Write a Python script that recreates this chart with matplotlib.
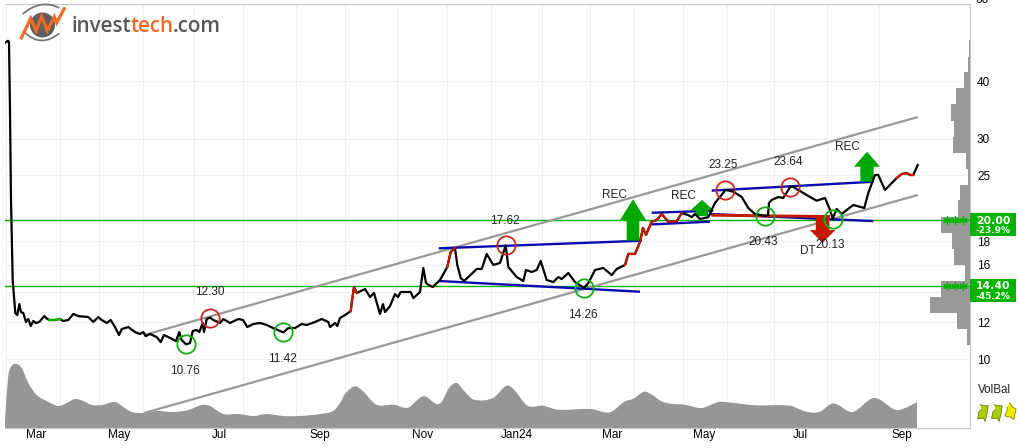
import matplotlib
matplotlib.use("Agg")
import matplotlib.pyplot as plt
import matplotlib.transforms as mtransforms
from matplotlib.patches import Circle, PathPatch, Rectangle
from matplotlib.path import Path
from matplotlib.ticker import NullFormatter, NullLocator
import numpy as np

plt.rcParams['font.family'] = ['Liberation Sans', 'DejaVu Sans']

# month starts on the time axis, month names sit between them
month_edges = [6, 60, 99, 143, 194, 243, 296, 345, 397, 447.5, 491.5, 542, 590, 634, 683, 727, 773.6, 827.5, 879]
month_label_pos = [36, 119, 219, 320, 423, 517, 612, 704, 800, 902]
month_labels = ['Mar', 'May', 'Jul', 'Sep', 'Nov', 'Jan24', 'Mar', 'May', 'Jul', 'Sep']
price_ticks = [10, 12, 14, 16, 18, 20, 25, 30, 40]
price_tick_labels = ['10', '12', '', '16', '18', '', '25', '30', '40']

# closing price
t = [5, 8, 9, 10, 11, 12.7, 14, 15.3, 17.3, 19.3, 21, 23.3, 26, 28.3, 30.7, 33.3, 36, 39.3, 44.3, 47.3,
     49.3, 55, 60, 63, 68.3, 73.3, 78.3, 88.3, 93.3, 98.3, 101.7, 106.7, 110.7, 115, 119, 121.7, 128.3,
     135, 140, 143.3, 145.7, 150, 156.7, 160.7, 164, 168.3, 176, 179.3, 181.7, 186, 190, 192.7, 196.7,
     199.3, 202.7, 204, 206.7, 210, 213.3, 220, 223.3, 230, 238.3, 243, 247.3, 253.3, 260, 266.7, 273.3,
     283.3, 288.3, 295, 301.7, 306.7, 315, 321.7, 328.3, 330, 335, 337.3, 340, 345, 350.7, 351.7, 354,
     356.7, 365, 370, 374, 380, 383, 385, 390, 395, 398, 400.7, 410.7, 413.3, 420, 423.3, 426, 429, 432.7,
     440, 447.3, 450.7, 455, 457.3, 460.7, 464, 468.3, 476.7, 481.7, 486.7, 493.3, 500, 505.7, 508.3,
     513.3, 516.7, 523.3, 526, 531.7, 536.7, 540.7, 546.7, 553.3, 558.3, 561.7, 568.3, 575, 584, 588.3,
     595, 603.3, 611.7, 616.7, 625, 628.3, 635, 640, 643, 646, 651.7, 656.7, 661.7, 668.3, 676.7, 681.7,
     688, 691.7, 695, 700, 708.3, 715, 720, 725.5, 733.3, 741.7, 748.3, 755, 765, 768, 769, 771.7, 778.3,
     783.3, 790.5, 793.3, 798.3, 808.3, 816.7, 825, 830, 832.7, 836.7, 841.7, 846.7, 853.3, 864.3, 868.3,
     875, 878.3, 885, 896.7, 901.7, 906.7, 910, 913.3, 917.7]
close = [48.4, 48.9, 48.6, 34.6, 22.1, 14.83, 13.62, 12.58, 12.45, 13.15, 12.64, 12.58, 12.03, 12.21, 11.79,
         12.09, 11.97, 12.03, 12.39, 12.21, 12.15, 12.15, 12.21, 12.09, 12.15, 12.52, 12.39, 12.33, 12.03,
         12.33, 12.15, 11.97, 12.15, 11.73, 11.27, 11.61, 11.73, 11.44, 11.33, 11.44, 11.21, 11.33, 11.16,
         10.88, 11.27, 11.16, 10.94, 11.44, 10.99, 10.76, 10.83, 11.50, 11.56, 11.44, 11.97, 11.44, 12.21,
         12.30, 12.15, 11.97, 12.21, 11.97, 12.21, 12.15, 11.73, 11.91, 11.97, 11.85, 11.67, 11.42, 11.67,
         11.67, 11.91, 11.85, 12.03, 12.21, 12.03, 11.73, 11.97, 11.79, 12.27, 12.45, 12.70, 13.22, 14.32,
         13.90, 14.18, 13.62, 13.90, 12.52, 13.15, 12.64, 13.02, 13.83, 13.62, 13.97, 13.97, 13.55, 13.97,
         15.75, 14.61, 14.46, 14.32, 14.83, 15.83, 17.06, 17.40, 15.99, 14.98, 14.76, 15.05, 15.67, 15.67,
         16.89, 15.99, 16.15, 17.62, 15.83, 15.36, 15.05, 14.76, 15.59, 15.44, 15.59, 16.31, 14.83, 14.68,
         15.05, 14.90, 15.36, 14.68, 14.26, 14.61, 15.59, 15.75, 15.20, 15.67, 15.99, 16.89, 16.89, 17.94,
         19.23, 18.57, 19.84, 20.00, 20.61, 19.84, 19.90, 20.71, 20.51, 20.30, 20.61, 20.10, 20.30, 21.78,
         22.44, 23.25, 23.04, 22.44, 21.24, 20.61, 20.43, 20.51, 21.78, 22.11, 22.44, 22.33, 23.64, 23.58,
         23.23, 22.55, 22.03, 22.33, 21.03, 20.13, 21.14, 20.61, 21.03, 21.56, 21.24, 22.89, 25.04, 25.04,
         23.23, 24.67, 25.16, 25.29, 25.04, 25.04, 26.31]
red_spans = [(350.7, 356.7), (447.3, 455), (625, 681.7), (896.7, 913.3)]
green_spans = [(49.3, 60)]

# volume balance
vol_t = [5, 8.3, 11.7, 16.7, 21.7, 28.3, 36.7, 46.7, 58.3, 66.7, 75, 83.3, 91.7, 101.7, 115, 123.3, 131.7, 143.3,
         156.7, 173.3, 188.3, 201.7, 210, 223.3, 238.3, 253.3, 266.7, 283.3, 300, 320, 333.3, 340, 345.7, 355.3,
         363, 376.4, 393.6, 408, 418.5, 425, 435.7, 441.4, 449, 456.7, 464.4, 474, 493, 506.5, 514, 527.5, 542.8,
         558, 590.7, 609.8, 625, 632.8, 644, 652, 661.5, 671, 684.4, 701.7, 718.9, 734, 755, 789.7, 805, 818.4,
         831.8, 837.5, 852.8, 873.9, 895, 902.6, 917]
volume = [8, 52, 62, 64, 60, 45, 33, 27, 22, 25, 29, 27, 23, 23, 26, 21, 16, 15, 17, 16, 18, 23, 22, 14, 14, 12, 14,
          12, 12, 14, 17, 25, 35, 41.7, 36.7, 23.3, 23.3, 20.3, 29, 31.7, 24.3, 25.7, 40, 45, 36.7, 28.3, 30, 42.3,
          38.3, 22.3, 22.3, 18.3, 19, 15.7, 26.7, 29, 36.3, 33.3, 26.7, 24.3, 23.3, 20, 26, 25, 22.7, 22.3, 16.7,
          15.7, 24.3, 23.3, 16, 30, 18.3, 19, 25.7]
volume_top = 423.5

# traded volume per price band, highest band first
band_edges = [49.1, 45.2, 41.8, 38.6, 35.6, 32.8, 30.3, 27.9, 25.8, 23.85, 22.05, 20.35, 18.77, 17.31, 15.99,
              14.76, 13.62, 12.58, 11.61, 10.72]
band_volume = [1, 2, 6.3, 14.3, 19, 15.7, 16.7, 4.3, 2, 10.3, 12, 29.3, 18.3, 15.7, 5.3, 28.7, 40.3, 12.7, 2.7]

# rising trend channel
channel_t = [144, 917.7]
channel_upper = [11.27, 33.43]
channel_lower = [7.64, 22.66]

# consolidation formations
formation_t = [[438.7, 641.7], [438.7, 640], [651.7, 713], [651.7, 710], [711.7, 873.3], [710, 873.3]]
formation_p = [[17.37, 18.04], [14.76, 13.99], [20.74, 20.95], [19.57, 19.84], [23.16, 24.21], [20.61, 19.90]]
broken_t = [711.7, 830]
broken_p = [20.49, 20.35]

# tops and bottoms
pivot_t = [186, 210, 283.3, 505.7, 584, 725.5, 765, 790.5, 832.7]
pivot_p = [10.76, 12.30, 11.42, 17.62, 14.26, 23.25, 20.43, 23.64, 20.13]
pivot_labels = ['10.76', '12.30', '11.42', '17.62', '14.26', '23.25', '20.43', '23.64', '20.13']
pivot_tops = [False, True, False, True, False, True, False, True, False]
pivot_dy = [-26.5, 26, -26.5, 24.5, -27, 25, -26, 24.5, -26]
pivot_dx = [-1, 0, -1, -1, -1, -2, -2, -2, -3]

# buy and sell signals: time, arrow start, arrow tip, shaft, head width, head length (px)
signals = [(633, 18.05, 22.18, 12.6, 26, 20.7, '#00a800'),
           (702, 20.40, 22.11, 12, 24, 10.7, '#00a800'),
           (867, 24.21, 28.12, 13.3, 26, 15, '#00a800'),
           (822.6, 20.40, 17.86, 13.6, 25.7, 12.7, '#c41a00')]
signal_text_t = [614, 683, 847, 808]
signal_text_p = [22.66, 22.55, 28.86, 17.16]
signal_text = ['REC', 'REC', 'REC', 'DT']

# support and resistance levels
levels = [20.00, 14.40]
level_changes = ['-23.9%', '-45.2%']
level_box_top = [20.68, 14.88]
level_box_bottom = [18.47, 13.31]
star_t = [946.7, 955, 963.3]

fig = plt.figure(figsize=(10.2, 4.48), dpi=100)
ax = fig.add_axes([5 / 1020, 20 / 448, 965 / 1020, 423.5 / 448])
ax.set_yscale('log')
ax.set_xlim(5, 970)
ax.set_ylim(7.09, 58.6)

# axes furniture
ax.set_xticks(month_edges)
ax.set_xticklabels([])
ax.set_xticks(month_label_pos, month_labels, minor=True)
ax.tick_params(axis='x', which='both', length=0, labelsize=8.5, pad=1)
ax.yaxis.tick_right()
ax.set_yticks(price_ticks)
ax.set_yticklabels(price_tick_labels)
ax.yaxis.set_minor_locator(NullLocator())
ax.yaxis.set_minor_formatter(NullFormatter())
ax.tick_params(axis='y', which='both', length=0, labelsize=8.5, pad=5)
ax.grid(True, which='major', color='#efefef', linewidth=0.75, zorder=0)
ax.set_axisbelow(True)
for side in ['top', 'bottom', 'right']:
    ax.spines[side].set_color('#c8c8c8')
    ax.spines[side].set_linewidth(0.9)
ax.spines['left'].set_visible(False)
ax.text(975, 60, '60', fontsize=8.5, va='center', ha='left', clip_on=False)

# volume in the lower part of the pane, drawn as a smooth curve through the readings
vol_trans = mtransforms.blended_transform_factory(ax.transData, ax.transAxes)
vx = np.array(vol_t, dtype=float)
vy = np.array(volume) / volume_top
verts = [(vx[0], 0), (vx[0], vy[0])]
codes = [Path.MOVETO, Path.LINETO]
for i in range(len(vx) - 1):
    dx = (vx[i + 1] - vx[i]) / 3
    s0 = (vy[i + 1] - vy[max(i - 1, 0)]) / (vx[i + 1] - vx[max(i - 1, 0)])
    s1 = (vy[min(i + 2, len(vx) - 1)] - vy[i]) / (vx[min(i + 2, len(vx) - 1)] - vx[i])
    verts += [(vx[i] + dx, vy[i] + s0 * dx), (vx[i + 1] - dx, vy[i + 1] - s1 * dx), (vx[i + 1], vy[i + 1])]
    codes += [Path.CURVE4, Path.CURVE4, Path.CURVE4]
verts += [(vx[-1], 0), (vx[0], 0)]
codes += [Path.LINETO, Path.CLOSEPOLY]
ax.add_patch(PathPatch(Path(verts, codes), facecolor='#969696', edgecolor='none', transform=vol_trans, zorder=1))

# volume by price on the right edge
for i in range(len(band_volume)):
    ax.add_patch(Rectangle((970 - band_volume[i], band_edges[i + 1]), band_volume[i],
                           band_edges[i] - band_edges[i + 1], facecolor='#999999', edgecolor='none', zorder=1.5))

for level in levels:
    ax.axhline(level, color='#00b400', linewidth=1.0, zorder=2)
    ax.plot(star_t, [level] * 3, linestyle='none', marker=(6, 2, 0), markersize=6, markeredgewidth=0.9,
            color='#00b400', zorder=2.1)

ax.plot(channel_t, channel_upper, color='#999999', linewidth=1.6, zorder=3, solid_capstyle='butt')
ax.plot(channel_t, channel_lower, color='#999999', linewidth=1.6, zorder=3, solid_capstyle='butt')

for i in range(len(formation_t)):
    ax.plot(formation_t[i], formation_p[i], color='#0a0ab0', linewidth=1.7, zorder=4, solid_capstyle='butt')
ax.plot(broken_t, broken_p, color='#c41a00', linewidth=2.1, zorder=4.2, solid_capstyle='butt')

# price line, with signal periods drawn over it in colour
t_arr = np.array(t)
close_arr = np.array(close)
ax.plot(t_arr, close_arr, color='black', linewidth=1.6, zorder=5, solid_joinstyle='round')
for spans, colour in [(red_spans, '#c41a00'), (green_spans, '#00b400')]:
    for a, b in spans:
        mask = (t_arr >= a) & (t_arr <= b)
        ax.plot(t_arr[mask], close_arr[mask], color=colour, linewidth=1.6, zorder=5.1)

for x0, start, tip, shaft, head_w, head_l, colour in signals:
    ax.annotate('', xy=(x0, tip), xytext=(x0, start),
                arrowprops=dict(width=shaft * 0.72, headwidth=head_w * 0.72, headlength=head_l * 0.72,
                                shrink=0, facecolor=colour, edgecolor='none', linewidth=0),
                zorder=4.5)
for i in range(len(signal_text)):
    ax.text(signal_text_t[i], signal_text_p[i], signal_text[i], fontsize=8.5, ha='center', va='center',
            color='#222222', zorder=7)

for i in range(len(pivot_t)):
    ring = '#c8281e' if pivot_tops[i] else '#12b012'
    ax.plot([pivot_t[i]], [pivot_p[i]], linestyle='none', marker='o', markersize=13.2, markerfacecolor='none',
            markeredgecolor=ring, markeredgewidth=1.3, zorder=6)
    ax.annotate(pivot_labels[i], xy=(pivot_t[i], pivot_p[i]), xytext=(pivot_dx[i], pivot_dy[i]),
                textcoords='offset pixels', fontsize=8.5, ha='center', va='center', color='#222222', zorder=7)

# level boxes beside the price scale
for i in range(len(levels)):
    ax.add_patch(Rectangle((970, level_box_bottom[i]), 46, level_box_top[i] - level_box_bottom[i],
                           facecolor='#00b400', edgecolor='none', clip_on=False, zorder=8))
    ax.annotate('%.2f' % levels[i], xy=(993, levels[i]), xytext=(0, -0.5), textcoords='offset pixels',
                fontsize=7.8, fontweight='bold', family='DejaVu Sans', color='white', ha='center', va='center',
                annotation_clip=False, zorder=9)
    ax.annotate(level_changes[i], xy=(993, levels[i]), xytext=(0, -10.5), textcoords='offset pixels',
                fontsize=6.5, fontweight='bold', family='DejaVu Sans', color='white', ha='center', va='center',
                annotation_clip=False, zorder=9)

# overlay in pixel units for the logo and the VolBal block
deco = fig.add_axes([0, 0, 1, 1], zorder=10)
deco.set_xlim(0, 1020)
deco.set_ylim(448, 0)
deco.axis('off')

deco.add_patch(Circle((42.5, 25), 12.5, facecolor='#5f5f5f', edgecolor='none'))
for arc in [[(22.7, 14), (41, -1.5), (59.3, 8)], [(25, 32.7), (41, 48), (59.3, 33.3)]]:
    deco.add_patch(PathPatch(Path(arc, [Path.MOVETO, Path.CURVE3, Path.CURVE3]), facecolor='none',
                             edgecolor='#777777', linewidth=1.3))
zig_x = [20.7, 30.7, 36, 41.7, 47.3, 54.3, 56.7, 65]
zig_y = [39.3, 18.3, 30.7, 16.7, 30.7, 16.7, 22.7, 7.3]
deco.plot(zig_x, zig_y, color='#f26a25', linewidth=2.3, solid_joinstyle='miter', solid_capstyle='butt')

logo_x = 72
for word, colour in [('invest', '#58585a'), ('tech', '#f26a25'), ('.com', '#58585a')]:
    txt = deco.text(logo_x, 32, word, fontsize=14.8, family='Open Sans', fontweight=600, color=colour,
                    ha='left', va='baseline')
    ext = txt.get_window_extent(fig.canvas.get_renderer())
    logo_x += ext.width - 0.8

deco.text(995, 390, 'VolBal', fontsize=8.4, ha='center', va='center', color='#222222')
arrow_green = [(-2.3, 7), (1, 6), (5, 6), (4, -1), (2.3, -8), (1, -5), (-4.3, -5.5), (-3.3, 0.3), (-0.7, 2.7)]
arrow_yellow = [(-1, 8), (2, 4), (5, 2), (4, -2), (3, -7), (0, -5), (-5, -4), (-3, 1), (-3, 4)]
for x0, y0, shape, face, edge in [(981.7, 411.7, arrow_green, '#a8d000', '#6a7a10'),
                                  (996, 411.7, arrow_green, '#a8d000', '#6a7a10'),
                                  (1010, 410.7, arrow_yellow, '#ece800', '#8a8000')]:
    deco.plot([x0], [y0], marker=shape, markersize=13, markerfacecolor=face, markeredgecolor=edge,
              markeredgewidth=0.6, linestyle='none')

fig.savefig('out.png', dpi=100)
